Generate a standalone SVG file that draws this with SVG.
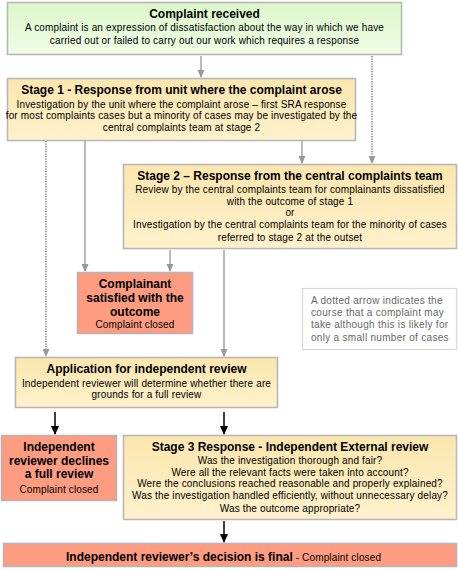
<svg xmlns="http://www.w3.org/2000/svg" width="459" height="570" viewBox="0 0 459 570">
<defs>
<linearGradient id="gGreen" x1="0" y1="0" x2="0" y2="1"><stop offset="0" stop-color="#dcf7cb"/><stop offset="1" stop-color="#effde5"/></linearGradient>
<linearGradient id="gYellow" x1="0" y1="0" x2="0" y2="1"><stop offset="0" stop-color="#fce6ae"/><stop offset="1" stop-color="#fef1cc"/></linearGradient>
<marker id="aGray" markerUnits="userSpaceOnUse" markerWidth="8" markerHeight="9" refX="7" refY="4" orient="auto"><path d="M0,0.5 L8,4 L0,7.5 z" fill="#999"/></marker>
<marker id="aBlack" markerUnits="userSpaceOnUse" markerWidth="9" markerHeight="9" refX="8" refY="4.5" orient="auto"><path d="M0,0.5 L9,4.5 L0,8.5 z" fill="#000"/></marker>
</defs>
<style>
.box{stroke:#b5b5b5;stroke-width:1.5}
.green{fill:url(#gGreen)}
.yellow{fill:url(#gYellow)}
.salmon{fill:#fd9c80}
.note{fill:#fff;stroke:#d8d8d8;stroke-width:1.2}
text{font-family:"Liberation Sans",Arial,sans-serif;fill:#000;text-anchor:middle}
.t{font-size:12px;font-weight:bold}
.b{font-size:10px;letter-spacing:0.15px}
.n{font-size:10px;fill:#666;text-anchor:start;letter-spacing:0.3px}
.g{stroke:#a3a3a3;stroke-width:1.5;fill:none;marker-end:url(#aGray)}
.d{stroke:#a0a0a0;stroke-width:2;stroke-dasharray:1.3 1.2;fill:none;marker-end:url(#aGray)}
.k{stroke:#000;stroke-width:1.5;fill:none;marker-end:url(#aBlack)}
</style>
<g id="connectors">
<line class="g" x1="201" y1="56" x2="201" y2="77"/>
<line class="d" x1="372" y1="56" x2="372" y2="163"/>
<line class="g" x1="302" y1="141" x2="302" y2="163"/>
<line class="d" x1="46" y1="141" x2="46" y2="356"/>
<line class="g" x1="85" y1="141" x2="85" y2="271"/>
<line class="g" x1="170" y1="250" x2="170" y2="271"/>
<line class="g" x1="224" y1="250" x2="224" y2="356"/>
<line class="k" x1="55" y1="412" x2="55" y2="434"/>
<line class="k" x1="224" y1="412" x2="224" y2="434"/>
<line class="k" x1="224" y1="521" x2="224" y2="542"/>
</g>
<g id="complaint-received">
<rect class="box green" x="7.5" y="2.5" width="394" height="52"/>
<text class="t" x="204.5" y="18">Complaint received</text>
<text class="b" x="204.5" y="30.5">A complaint is an expression of dissatisfaction about the way in which we have</text>
<text class="b" x="204.5" y="43.5">carried out or failed to carry out our work which requires a response</text>
</g>
<g id="stage1">
<rect class="box yellow" x="7.5" y="78.5" width="348" height="62"/>
<text class="t" x="181.5" y="94">Stage 1 - Response from unit where the complaint arose</text>
<text class="b" x="181.5" y="107.5">Investigation by the unit where the complaint arose – first SRA response</text>
<text class="b" x="181.5" y="119">for most complaints cases but a minority of cases may be investigated by the</text>
<text class="b" x="181.5" y="130.5">central complaints team at stage 2</text>
</g>
<g id="stage2">
<rect class="box yellow" x="123.5" y="164.5" width="333" height="84"/>
<text class="t" x="290" y="180">Stage 2 – Response from the central complaints team</text>
<text class="b" x="290" y="192.5">Review by the central complaints team for complainants dissatisfied</text>
<text class="b" x="290" y="204.5">with the outcome of stage 1</text>
<text class="b" x="290" y="215.5">or</text>
<text class="b" x="290" y="227.5">Investigation by the central complaints team for the minority of cases</text>
<text class="b" x="290" y="240.5">referred to stage 2 at the outset</text>
</g>
<g id="satisfied">
<rect class="box salmon" x="77.5" y="272.5" width="115" height="61"/>
<text class="t" x="135" y="288">Complainant</text>
<text class="t" x="135" y="302">satisfied with the</text>
<text class="t" x="135" y="316">outcome</text>
<text class="b" x="135" y="328">Complaint closed</text>
</g>
<g id="legend-note">
<rect class="note" x="302.5" y="288.5" width="154" height="61"/>
<text class="n" x="311" y="303.5">A dotted arrow indicates the</text>
<text class="n" x="311" y="315.5">course that a complaint may</text>
<text class="n" x="311" y="327.5">take although this is likely for</text>
<text class="n" x="311" y="340.5">only a small number of cases</text>
</g>
<g id="application">
<rect class="box yellow" x="15.5" y="357.5" width="262" height="50"/>
<text class="t" x="146.5" y="373">Application for independent review</text>
<text class="b" x="146.5" y="386.5">Independent reviewer will determine whether there are</text>
<text class="b" x="146.5" y="398">grounds for a full review</text>
</g>
<g id="declines">
<rect class="box salmon" x="1.5" y="435.5" width="115" height="65"/>
<text class="t" x="59" y="451">Independent</text>
<text class="t" x="59" y="465">reviewer declines</text>
<text class="t" x="59" y="478">a full review</text>
<text class="b" x="59" y="492.5">Complaint closed</text>
</g>
<g id="stage3">
<rect class="box yellow" x="123.5" y="435.5" width="333" height="84"/>
<text class="t" x="290" y="451">Stage 3 Response - Independent  External review</text>
<text class="b" x="290" y="463.5">Was the investigation thorough and fair?</text>
<text class="b" x="290" y="475.5">Were all the relevant facts were taken into account?</text>
<text class="b" x="290" y="486.5">Were the conclusions reached reasonable and properly explained?</text>
<text class="b" x="290" y="498.5">Was the investigation handled efficiently, without unnecessary delay?</text>
<text class="b" x="290" y="511.5">Was the outcome appropriate?</text>
</g>
<g id="final">
<rect class="box salmon" x="3.5" y="543.5" width="453" height="23"/>
<text x="66" y="561" style="text-anchor:start"><tspan class="t">Independent reviewer’s decision is final</tspan><tspan class="b"> - Complaint closed</tspan></text>
</g>
</svg>
